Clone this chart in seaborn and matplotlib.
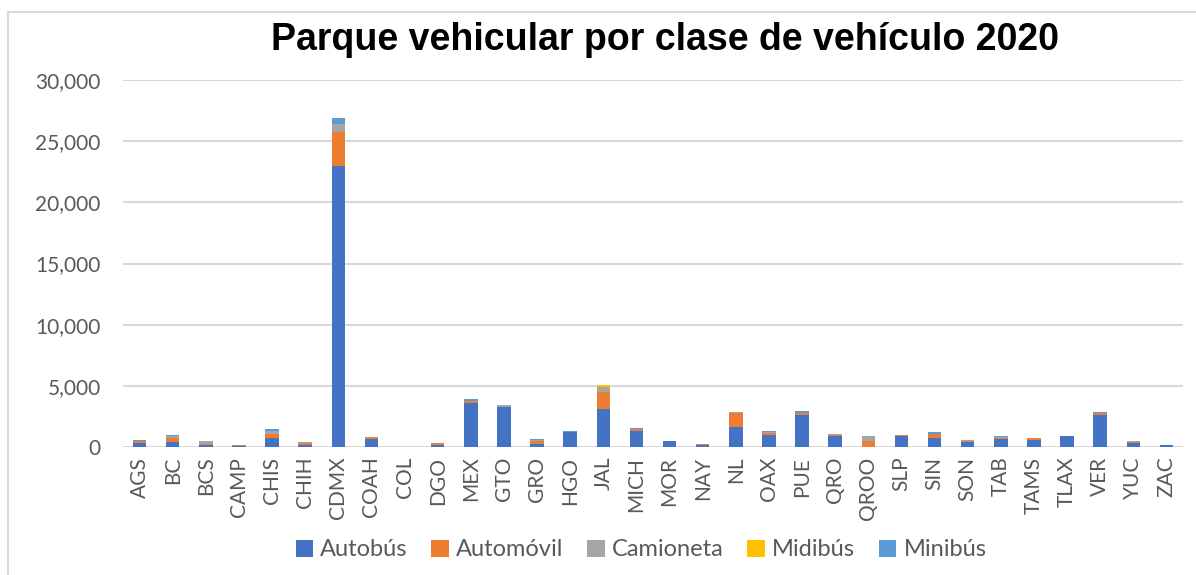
import numpy as np
import pandas as pd
import seaborn as sns
import matplotlib
matplotlib.use("Agg")
import matplotlib.pyplot as plt
from matplotlib.patches import Patch, Rectangle
from matplotlib.ticker import FuncFormatter

# ---------------- data ----------------
estados = ["AGS", "BC", "BCS", "CAMP", "CHIS", "CHIH", "CDMX", "COAH", "COL", "DGO",
           "MEX", "GTO", "GRO", "HGO", "JAL", "MICH", "MOR", "NAY", "NL", "OAX",
           "PUE", "QRO", "QROO", "SLP", "SIN", "SON", "TAB", "TAMS", "TLAX", "VER",
           "YUC", "ZAC"]
autobus = [360, 440, 140, 60, 770, 165, 23000, 660, 20, 165,
           3560, 3260, 275, 1220, 3120, 1300, 470, 140, 1630, 995,
           2650, 940, 20, 910, 770, 415, 635, 610, 880, 2650,
           330, 140]
automovil = [130, 330, 140, 110, 300, 140, 2750, 165, 10, 165,
             190, 50, 250, 0, 1350, 165, 0, 110, 1130, 190,
             110, 30, 440, 80, 330, 110, 80, 140, 0, 165,
             110, 0]
camioneta = [30, 140, 250, 0, 250, 140, 650, 0, 0, 0,
             0, 110, 80, 0, 470, 0, 0, 0, 140, 80,
             0, 110, 415, 0, 0, 55, 140, 0, 0, 0,
             55, 0]
midibus = [0, 0, 0, 0, 0, 0, 0, 0, 0, 0,
           0, 0, 0, 0, 140, 0, 0, 0, 0, 0,
           0, 0, 0, 0, 0, 0, 0, 0, 0, 0,
           0, 0]
minibus = [20, 80, 0, 0, 170, 0, 520, 0, 0, 0,
           140, 0, 55, 50, 0, 110, 30, 0, 0, 55,
           220, 0, 55, 0, 140, 0, 55, 0, 30, 80,
           0, 25]
clases = ["Autobús", "Automóvil", "Camioneta", "Midibús", "Minibús"]
colores = ["#4472C4", "#ED7D31", "#A5A5A5", "#FFC000", "#5B9BD5"]
titulo = "Parque vehicular por clase de vehículo 2020"
yticks = [0, 5000, 10000, 15000, 20000, 25000, 30000]

# ---------------- plot ----------------
sns.set_theme(style="white")
plt.rcParams["font.family"] = ["Lato", "DejaVu Sans"]

series = [autobus, automovil, camioneta, midibus, minibus]
cum = np.cumsum(np.array(series, dtype=float), axis=0)

fig = plt.figure(figsize=(11.96, 5.75), dpi=100)
ax = fig.add_axes([123 / 1196, 1 - 447 / 575, (1183 - 123) / 1196, (447 - 80) / 575])

# draw cumulative stacks from top layer down so lower layers overlay
for i in range(len(clases) - 1, -1, -1):
    sns.barplot(x=estados, y=cum[i], order=estados, color=colores[i],
                saturation=1, width=0.41, linewidth=0, errorbar=None, ax=ax)

ax.set_xlim(-0.5, len(estados) - 0.5)
ax.set_ylim(0, 30000)
ax.set_yticks(yticks)
ax.yaxis.set_major_formatter(FuncFormatter(lambda v, p: f"{int(v):,}"))
ax.yaxis.grid(True, color="#D9D9D9", linewidth=1.5)
ax.set_axisbelow(True)
for s in ax.spines.values():
    s.set_visible(False)
ax.set_xlabel("")
ax.set_ylabel("")
ax.tick_params(axis="y", length=0, pad=16, labelsize=15, labelcolor="#595959")
ax.tick_params(axis="x", length=0, pad=7, labelsize=15, labelcolor="#595959",
               labelrotation=90)

fig.text(0.556, 0.93, titulo, ha="center", va="center", fontsize=27,
         fontweight="bold", family=["Liberation Sans", "DejaVu Sans"], color="black")

handles = [Patch(facecolor=c, edgecolor="none", label=l) for c, l in zip(colores, clases)]
fig.legend(handles=handles, loc="center", bbox_to_anchor=(0.536, 1 - 550 / 575),
           ncol=5, frameon=False, fontsize=17, handlelength=0.75, handleheight=0.75,
           handletextpad=0.3, columnspacing=1.0, labelcolor="#595959")

fig.patches.append(Rectangle((8 / 1196, -0.1), 1.2, 1 - 12 / 575 + 0.1,
                             transform=fig.transFigure, fill=False,
                             edgecolor="#D9D9D9", linewidth=1.5, figure=fig))

fig.savefig("out.png", dpi=100)
